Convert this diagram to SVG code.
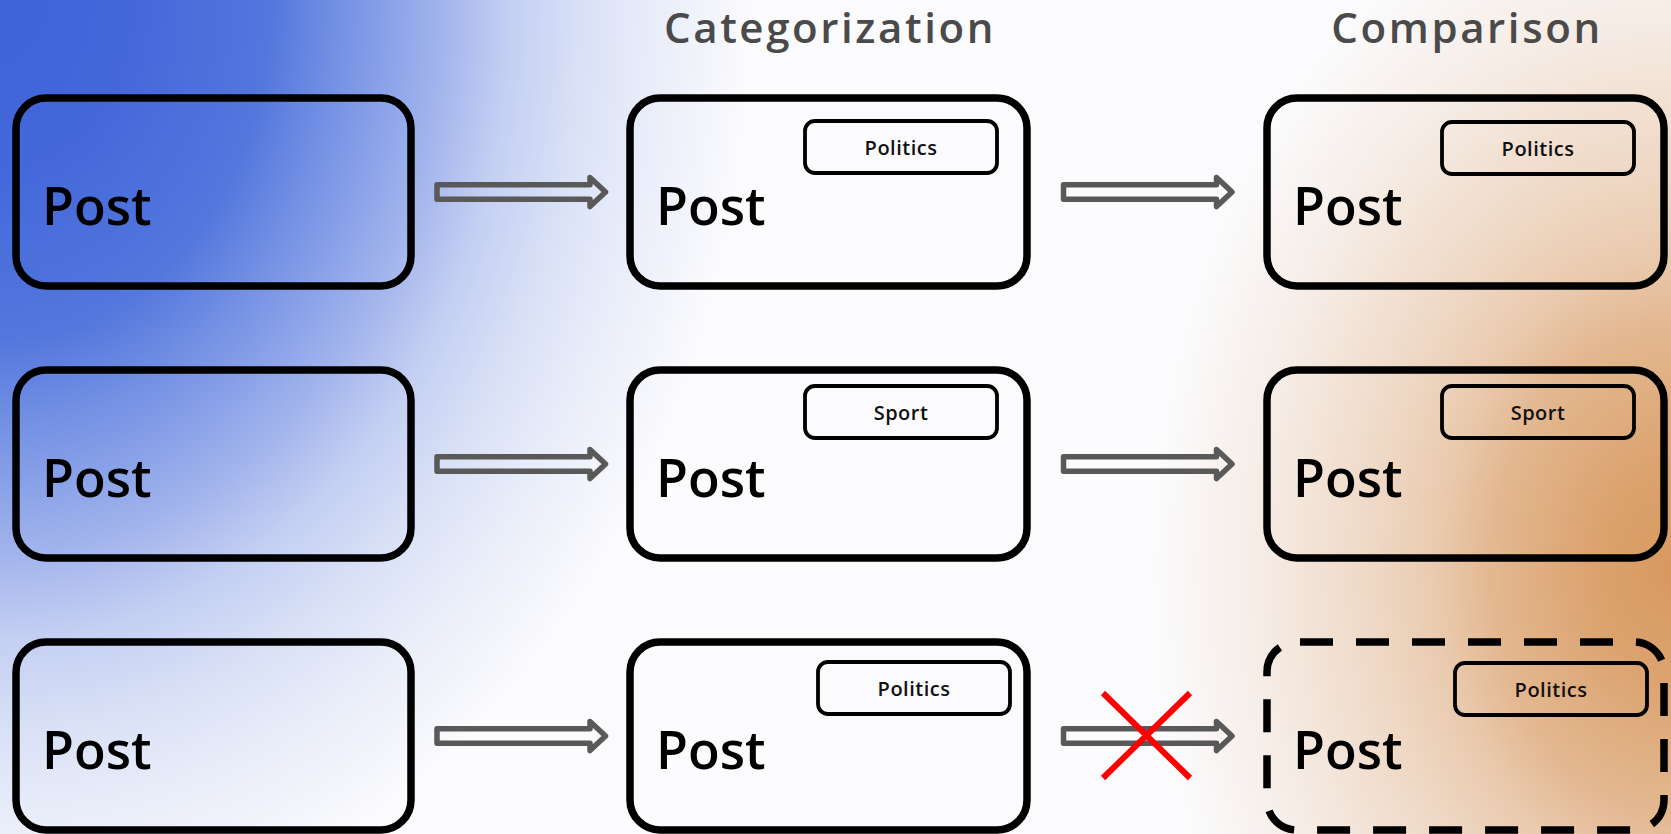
<svg xmlns="http://www.w3.org/2000/svg" width="1671" height="834" viewBox="0 0 1671 834">
  <defs>
    <radialGradient id="blueGlow" gradientUnits="userSpaceOnUse" cx="0" cy="0" r="1" gradientTransform="translate(0 0) scale(750 940)">
      <stop offset="0" stop-color="#3d63d8"/>
      <stop offset="0.18" stop-color="#4468da"/>
      <stop offset="0.36" stop-color="#5377dd"/>
      <stop offset="0.45" stop-color="#7390e3"/>
      <stop offset="0.52" stop-color="#8aa2e8"/>
      <stop offset="0.59" stop-color="#a2b4ec"/>
      <stop offset="0.68" stop-color="#c4cff2"/>
      <stop offset="0.77" stop-color="#d8e0f6"/>
      <stop offset="0.86" stop-color="#e7ecf9"/>
      <stop offset="0.93" stop-color="#f1f3fb"/>
      <stop offset="1" stop-color="#fbfbfd"/>
    </radialGradient>
    <radialGradient id="orangeGlow" gradientUnits="userSpaceOnUse" cx="0" cy="0" r="1" gradientTransform="translate(1671 570) scale(520 700)">
      <stop offset="0" stop-color="#d8995f" stop-opacity="1"/>
      <stop offset="0.15" stop-color="#d8995f" stop-opacity="0.9"/>
      <stop offset="0.35" stop-color="#d8995f" stop-opacity="0.68"/>
      <stop offset="0.45" stop-color="#d8995f" stop-opacity="0.5"/>
      <stop offset="0.56" stop-color="#d8995f" stop-opacity="0.37"/>
      <stop offset="0.78" stop-color="#d8995f" stop-opacity="0.16"/>
      <stop offset="1" stop-color="#d8995f" stop-opacity="0"/>
    </radialGradient>
  </defs>
  <style>
    .box { fill: none; stroke: #000; stroke-width: 7.5; }
    .dashed { stroke-dasharray: 33 23; stroke-dashoffset: 53; }
    .tag { fill: none; stroke: #000; stroke-width: 3.8; }
    .post { font-family: "Open Sans", Lato, sans-serif; font-size: 52px; fill: #000; font-weight: 600; }
    .tagtxt { font-family: "Open Sans", Lato, sans-serif; font-size: 20px; fill: #111; text-anchor: middle; font-weight: 600; letter-spacing: 0.5px; }
    .title { font-family: "Open Sans", Lato, sans-serif; font-size: 42px; fill: #4a4a4a; text-anchor: middle; letter-spacing: 2.6px; font-weight: 600; }
    .arrow { fill: none; stroke: #595959; stroke-width: 5.5; stroke-linejoin: round; }
    .cross { stroke: #ff0000; stroke-width: 6; }
  </style>

  <rect x="0" y="0" width="1671" height="834" fill="url(#blueGlow)"/>
  <rect x="0" y="0" width="1671" height="834" fill="url(#orangeGlow)"/>

  <text class="title" x="830" y="43">Categorization</text>
  <text class="title" x="1467" y="43">Comparison</text>

  <g id="post-r1c1">
    <rect class="box" x="16" y="98" width="395" height="188" rx="30"/>
    <text class="post" x="42" y="225">Post</text>
  </g>
  <g id="post-r2c1">
    <rect class="box" x="16" y="370" width="395" height="188" rx="30"/>
    <text class="post" x="42" y="497">Post</text>
  </g>
  <g id="post-r3c1">
    <rect class="box" x="16" y="642" width="395" height="188" rx="30"/>
    <text class="post" x="42" y="769">Post</text>
  </g>

  <g id="post-r1c2">
    <rect class="box" x="630" y="98" width="397" height="188" rx="30"/>
    <rect class="tag" x="805" y="121" width="192" height="52" rx="10"/>
    <text class="tagtxt" x="901" y="155">Politics</text>
    <text class="post" x="656" y="225">Post</text>
  </g>
  <g id="post-r2c2">
    <rect class="box" x="630" y="370" width="397" height="188" rx="30"/>
    <rect class="tag" x="805" y="386" width="192" height="52" rx="10"/>
    <text class="tagtxt" x="901" y="420">Sport</text>
    <text class="post" x="656" y="497">Post</text>
  </g>
  <g id="post-r3c2">
    <rect class="box" x="630" y="642" width="397" height="188" rx="30"/>
    <rect class="tag" x="818" y="662" width="192" height="52" rx="10"/>
    <text class="tagtxt" x="914" y="696">Politics</text>
    <text class="post" x="656" y="769">Post</text>
  </g>

  <g id="post-r1c3">
    <rect class="box" x="1267" y="98" width="397" height="188" rx="30"/>
    <rect class="tag" x="1442" y="122" width="192" height="52" rx="10"/>
    <text class="tagtxt" x="1538" y="156">Politics</text>
    <text class="post" x="1293" y="225">Post</text>
  </g>
  <g id="post-r2c3">
    <rect class="box" x="1267" y="370" width="397" height="188" rx="30"/>
    <rect class="tag" x="1442" y="386" width="192" height="52" rx="10"/>
    <text class="tagtxt" x="1538" y="420">Sport</text>
    <text class="post" x="1293" y="497">Post</text>
  </g>
  <g id="post-r3c3">
    <rect class="box dashed" x="1267" y="642" width="397" height="188" rx="30"/>
    <rect class="tag" x="1455" y="663" width="192" height="52" rx="10"/>
    <text class="tagtxt" x="1551" y="697">Politics</text>
    <text class="post" x="1293" y="769">Post</text>
  </g>

  <g id="connectors">
    <path class="arrow" d="M437 184.75 H590 V177.5 L605.5 192 L590 206.5 V199.25 H437 Z"/>
    <path class="arrow" d="M437 456.75 H590 V449.5 L605.5 464 L590 478.5 V471.25 H437 Z"/>
    <path class="arrow" d="M437 728.75 H590 V721.5 L605.5 736 L590 750.5 V743.25 H437 Z"/>
    <path class="arrow" d="M1063.5 184.75 H1216.5 V177.5 L1232 192 L1216.5 206.5 V199.25 H1063.5 Z"/>
    <path class="arrow" d="M1063.5 456.75 H1216.5 V449.5 L1232 464 L1216.5 478.5 V471.25 H1063.5 Z"/>
    <path class="arrow" d="M1063.5 728.75 H1216.5 V721.5 L1232 736 L1216.5 750.5 V743.25 H1063.5 Z"/>
    <g id="blocked-mark">
      <line class="cross" x1="1103" y1="693" x2="1190" y2="778"/>
      <line class="cross" x1="1190" y1="693" x2="1103" y2="778"/>
    </g>
  </g>
</svg>
